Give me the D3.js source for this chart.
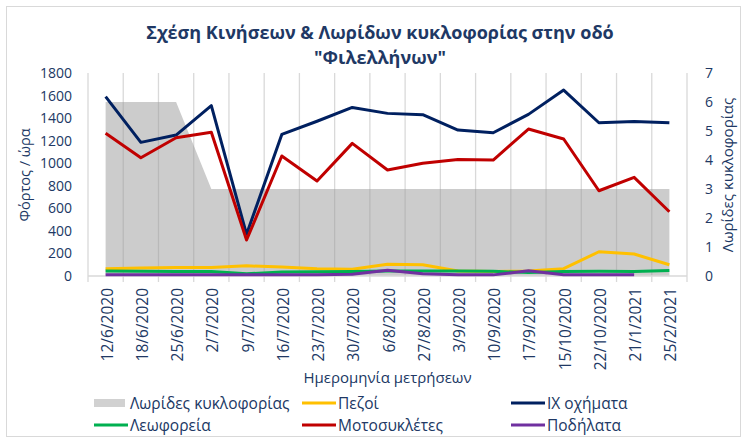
<!DOCTYPE html>
<html>
<head>
<meta charset="utf-8">
<script src="https://cdn.jsdelivr.net/npm/d3@7"></script>
<style>
  html, body { margin: 0; padding: 0; background: #fff; }
  svg { display: block; font-family: 'Open Sans', sans-serif; }
</style>
</head>
<body>
<div id="chart"></div>
<script>
const dates = ['12/6/2020', '18/6/2020', '25/6/2020', '2/7/2020', '9/7/2020', '16/7/2020', '23/7/2020',
  '30/7/2020', '6/8/2020', '27/8/2020', '3/9/2020', '10/9/2020', '17/9/2020', '15/10/2020',
  '22/10/2020', '21/1/2021', '25/2/2021'];

const lanes = [6, 6, 6, 3, 3, 3, 3, 3, 3, 3, 3, 3, 3, 3, 3, 3, 3];
const pedestrians = [65, 72, 75, 75, 90, 80, 65, 60, 105, 100, 45, 40, 45, 65, 215, 195, 100];
const cars = [1590, 1185, 1250, 1510, 370, 1255, 1372, 1495, 1442, 1430, 1294, 1270, 1433, 1649, 1359, 1371, 1359];
const buses = [45, 42, 40, 40, 20, 35, 38, 40, 45, 45, 45, 42, 30, 40, 42, 40, 48];
const motorcycles = [1265, 1049, 1226, 1274, 319, 1064, 842, 1176, 940, 999, 1034, 1028, 1303, 1215, 756, 875, 570];
const bicycles = [12, 12, 12, 12, 10, 10, 12, 15, 50, 20, 10, 10, 46, 12, 12, 12, null];

const leftTicks = [0, 200, 400, 600, 800, 1000, 1200, 1400, 1600, 1800];
const rightTicks = [0, 1, 2, 3, 4, 5, 6, 7];

const series = [
  { name: 'Πεζοί', values: pedestrians, color: '#ffc000' },
  { name: 'ΙΧ οχήματα', values: cars, color: '#002060' },
  { name: 'Λεωφορεία', values: buses, color: '#00b050' },
  { name: 'Μοτοσυκλέτες', values: motorcycles, color: '#c00000' },
  { name: 'Ποδήλατα', values: bicycles, color: '#7030a0' }
];

const W = 747, H = 441;
const plot = { left: 88, right: 687, top: 73, bottom: 276 };
const textColor = '#203864';

const svg = d3.select('#chart').append('svg').attr('width', W).attr('height', H);

// frame
svg.append('rect').attr('x', 6.5).attr('y', 6.5).attr('width', 734).attr('height', 430)
  .attr('fill', 'none').attr('stroke', '#d9d9d9');

// title
const titleLines = ['Σχέση Κινήσεων & Λωρίδων κυκλοφορίας στην οδό', '"Φιλελλήνων"'];
svg.append('g').selectAll('text').data(titleLines).enter().append('text')
  .attr('x', 380).attr('y', (d, i) => 39 + i * 25).attr('text-anchor', 'middle')
  .style('font-weight', 'bold').style('font-size', '18px').style('fill', textColor)
  .text(d => d);

// scales
const x = d3.scaleBand().domain(dates).range([plot.left, plot.right]).padding(0);
const cx = d => x(d) + x.bandwidth() / 2;
const y = d3.scaleLinear().domain([0, 1800]).range([plot.bottom, plot.top]);
const yR = d3.scaleLinear().domain([0, 7]).range([plot.bottom, plot.top]);

// vertical gridlines at category boundaries
const bounds = dates.map(d => x(d)).concat([plot.right]);
svg.append('g').selectAll('line').data(bounds).enter().append('line')
  .attr('x1', d => d).attr('x2', d => d).attr('y1', plot.top).attr('y2', plot.bottom)
  .attr('stroke', '#d9d9d9').attr('stroke-width', 1.3);

// lanes area (secondary axis)
const area = d3.area().x((d, i) => cx(dates[i])).y0(yR(0)).y1(d => yR(d));
svg.append('path').datum(lanes).attr('d', area).attr('fill', '#999').attr('fill-opacity', 0.5);

// bottom axis line + ticks
svg.append('line').attr('x1', plot.left).attr('x2', plot.right).attr('y1', plot.bottom).attr('y2', plot.bottom)
  .attr('stroke', '#d9d9d9').attr('stroke-width', 1.3);
svg.append('g').selectAll('line').data(bounds).enter().append('line')
  .attr('x1', d => d).attr('x2', d => d).attr('y1', plot.bottom).attr('y2', plot.bottom + 6)
  .attr('stroke', '#d9d9d9').attr('stroke-width', 1.3);

// lines
const line = d3.line().defined(d => d != null).x((d, i) => cx(dates[i])).y(d => y(d));
series.forEach(s => {
  svg.append('path').datum(s.values).attr('d', line).attr('fill', 'none')
    .attr('stroke', s.color).attr('stroke-width', 3).attr('stroke-linejoin', 'round');
});

// left axis labels
svg.append('g').selectAll('text').data(leftTicks).enter().append('text')
  .attr('x', 72).attr('y', d => y(d) + 5).attr('text-anchor', 'end')
  .style('font-size', '14px').style('fill', textColor).text(d => d);

// right axis labels
svg.append('g').selectAll('text').data(rightTicks).enter().append('text')
  .attr('x', 705).attr('y', d => yR(d) + 5).attr('text-anchor', 'start')
  .style('font-size', '14px').style('fill', textColor).text(d => d);

// x labels
svg.append('g').selectAll('text').data(dates).enter().append('text')
  .attr('transform', d => `translate(${cx(d) + 7},288) rotate(-90)`).attr('text-anchor', 'end')
  .style('font-size', '15.5px').style('fill', textColor).text(d => d);

// axis titles
svg.append('text').attr('transform', 'translate(30,175) rotate(-90)').attr('text-anchor', 'middle')
  .style('font-size', '14.5px').style('fill', textColor).text('Φόρτος / ώρα');
svg.append('text').attr('transform', 'translate(733,175) rotate(-90)').attr('text-anchor', 'middle')
  .style('font-size', '15px').style('fill', textColor).text('Λωρίδες κυκλοφορίας');
svg.append('text').attr('x', (plot.left + plot.right) / 2).attr('y', 383).attr('text-anchor', 'middle')
  .style('font-size', '15px').style('fill', textColor).text('Ημερομηνία μετρήσεων');

// legend
const legendItems = [{ name: 'Λωρίδες κυκλοφορίας', area: true }].concat(series);
const colX = [94, 302, 511], rowY = [403, 425];
legendItems.forEach((it, i) => {
  const g = svg.append('g').attr('transform', `translate(${colX[i % 3]},${rowY[Math.floor(i / 3)]})`);
  if (it.area) {
    g.append('rect').attr('x', 0).attr('y', -4).attr('width', 31).attr('height', 8)
      .attr('fill', '#999').attr('fill-opacity', 0.45);
  } else {
    g.append('line').attr('x1', 0).attr('x2', 34).attr('y1', 0).attr('y2', 0)
      .attr('stroke', it.color).attr('stroke-width', 3);
  }
  g.append('text').attr('x', 36).attr('y', 5.5).style('font-size', '15.5px').style('fill', textColor).text(it.name);
});
</script>
</body>
</html>
